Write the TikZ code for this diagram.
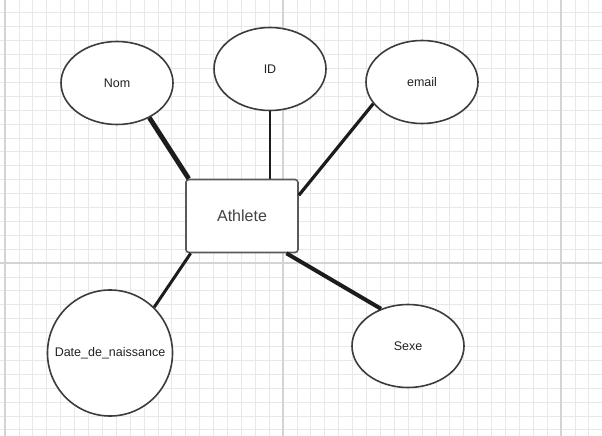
\documentclass[tikz,border=0pt]{standalone}
\usepackage{fontspec}
\setmainfont{Liberation Sans}
\usepackage{tikz}
\usepackage{xcolor}
\usetikzlibrary{shapes.geometric}
\definecolor{gridlight}{HTML}{E8E8E8}
\definecolor{gridheavy}{HTML}{D4D4D4}
\definecolor{inkline}{HTML}{1C1C1C}
\definecolor{borderdark}{HTML}{3C3C3C}
\definecolor{textdark}{HTML}{222222}

\begin{document}
\begin{tikzpicture}[
      x=1pt,y=-1pt,
      gridminor/.style={gridlight,line width=0.8pt},
      gridmajor/.style={gridheavy,line width=1.3pt},
      attrib/.style={draw=borderdark,line width=1.6pt,fill=white,ellipse,
                   minimum width=112pt,minimum height=83pt,inner sep=0pt,
                   font=\fontsize{12.5}{15}\selectfont,text=textdark},
      entity/.style={draw=borderdark!85,line width=1.6pt,fill=white,rounded corners=3pt,
                   minimum width=112pt,minimum height=73pt,inner sep=0pt,
                   font=\fontsize{16}{19}\selectfont,text=textdark!85},
      link/.style={inkline,line width=#1}
    ]
    \useasboundingbox (0,0) rectangle (602,436);
    \fill[white] (0,0) rectangle (602,436);
    \foreach \k in {0,...,43}
      \draw[gridminor] ({5+13.9*\k},0) -- ++(0,436);
    \foreach \k in {-12,...,18}
      \draw[gridminor] (0,{263-13.9*\k}) -- ++(602,0);
    \foreach \xm in {5,283,561}
      \draw[gridmajor] (\xm,0) -- ++(0,436);
    \draw[gridmajor] (0,263) -- ++(602,0);

    \node[attrib] (nom) at (117,83) {Nom};
    \node[attrib] (id) at (270,69) {ID};
    \node[attrib] (email) at (422,82) {email};
    \node[attrib] (sexe) at (408,346) {Sexe};
    \node[attrib,minimum width=125pt,minimum height=126pt,inner xsep=-12pt]
      (datenaiss) at (110,353) {Date\_de\_naissance};
    \node[entity] (athlete) at (242,216) {Athlete};

    \draw[link=4.8pt] (nom.-47) -- (athlete.145);
    \draw[link=2.4pt] (id.south) -- (id.south |- athlete.north);
    \draw[link=3.2pt] (email.204) -- (athlete.20);
    \draw[link=3pt] (datenaiss.46) -- (athlete.216);
    \draw[link=4pt] (athlete.-40) -- (sexe.126);
  \end{tikzpicture}
\end{document}
